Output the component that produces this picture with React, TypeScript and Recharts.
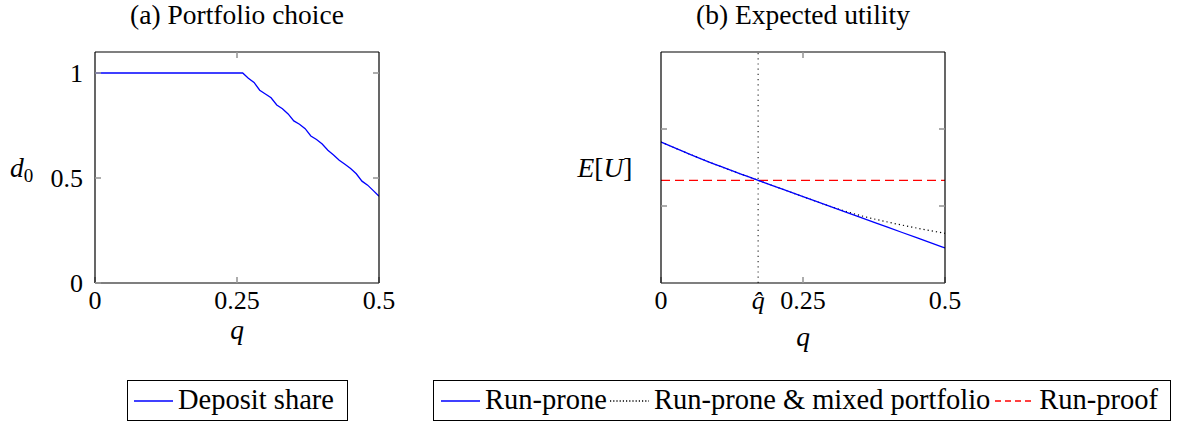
import React from "react";
import { LineChart, Line, XAxis, YAxis, ReferenceLine } from "recharts";

// (a) deposit share d0 against q
const depositQ = [
  0, 0.26, 0.27, 0.28, 0.29, 0.3, 0.31, 0.32, 0.33, 0.34, 0.35, 0.36, 0.37,
  0.38, 0.39, 0.4, 0.41, 0.42, 0.43, 0.44, 0.45, 0.46, 0.47, 0.48, 0.49, 0.5,
];
const depositShare = [
  1, 1, 0.975, 0.955, 0.918, 0.9, 0.882, 0.848, 0.83, 0.805, 0.772, 0.756,
  0.735, 0.7, 0.683, 0.662, 0.632, 0.61, 0.585, 0.565, 0.545, 0.52, 0.485,
  0.466, 0.44, 0.413,
];
const depositTicksX = [0, 0.25, 0.5];
const depositTicksY = [0, 0.5, 1];

// (b) expected utility against q
const utilityQ = [0, 0.05, 0.1, 0.15, 0.2, 0.25, 0.3, 0.35, 0.4, 0.45, 0.5];
const runProne = [1.831, 1.675, 1.527, 1.39, 1.256, 1.122, 0.99, 0.855, 0.722, 0.588, 0.455];
const runProneMixed = [1.831, 1.675, 1.527, 1.39, 1.256, 1.122, 0.99, 0.878, 0.79, 0.714, 0.645];
const runProof = [1.334, 1.334, 1.334, 1.334, 1.334, 1.334, 1.334, 1.334, 1.334, 1.334, 1.334];
const qHat = 0.171;
const utilityTicksX = [0, 0.25, 0.5];
const utilityTicksY = [1, 2];

const depositData = depositQ.map((q, i) => ({ q, share: depositShare[i] }));
const utilityData = utilityQ.map((q, i) => ({
  q,
  prone: runProne[i],
  mixed: runProneMixed[i],
  proof: runProof[i],
}));

const FONT = "'Times New Roman', 'Liberation Serif', 'DejaVu Serif', serif";
const tickStyle = { fontSize: 26, fill: "#000", fontFamily: FONT };
const frame = { stroke: "#000", strokeWidth: 1.2 };
const tickMark = { stroke: "#999", strokeWidth: 1.6 };
const noLabel = () => "";

const LegendSample = ({ color, dash }: { color: string; dash?: string }) => (
  <svg width={39} height={10} style={{ flex: "none" }}>
    <line x1={0} y1={5} x2={39} y2={5} stroke={color} strokeWidth={1.3} strokeDasharray={dash} />
  </svg>
);

// invisible series, only there so the mirrored axes get a domain
const hidden = {
  stroke: "none",
  dot: false,
  activeDot: false,
  isAnimationActive: false,
  legendType: "none" as const,
};

const App: React.FC = () => {
  return (
    <div
      style={{
        position: "absolute",
        left: 0,
        top: 0,
        width: 1178,
        height: 425,
        background: "#fff",
        fontFamily: FONT,
      }}
    >
      <div style={{ position: "absolute", left: 0, top: 0 }}>
        <LineChart
          width={410}
          height={320}
          data={depositData}
          margin={{ top: 51, right: 30, bottom: 36, left: 94 }}
        >
          <XAxis
            dataKey="q"
            type="number"
            domain={[0, 0.5]}
            allowDataOverflow
            ticks={depositTicksX}
            interval={0}
            height={1}
            tickSize={-6}
            tickMargin={14}
            tick={tickStyle}
            axisLine={frame}
            tickLine={tickMark}
          />
          <XAxis
            xAxisId="top"
            orientation="top"
            dataKey="q"
            type="number"
            domain={[0, 0.5]}
            allowDataOverflow
            ticks={[0.25]}
            interval={0}
            height={1}
            tickSize={-6}
            tick={tickStyle}
            tickFormatter={noLabel}
            axisLine={frame}
            tickLine={tickMark}
          />
          <YAxis
            type="number"
            domain={[0, 1.1]}
            allowDataOverflow
            ticks={depositTicksY}
            interval={0}
            width={1}
            tickSize={-6}
            tickMargin={18}
            tick={tickStyle}
            axisLine={frame}
            tickLine={tickMark}
          />
          <YAxis
            yAxisId="right"
            orientation="right"
            type="number"
            domain={[0, 1.1]}
            allowDataOverflow
            ticks={[0.5, 1]}
            interval={0}
            width={1}
            tickSize={-6}
            tick={tickStyle}
            tickFormatter={noLabel}
            axisLine={frame}
            tickLine={tickMark}
          />
          <Line xAxisId="top" yAxisId="right" dataKey="share" {...hidden} />
          <Line
            dataKey="share"
            type="linear"
            stroke="#0000ff"
            strokeWidth={1.3}
            dot={false}
            isAnimationActive={false}
          />
        </LineChart>
      </div>

      <div style={{ position: "absolute", left: 560, top: 0 }}>
        <LineChart
          width={410}
          height={320}
          data={utilityData}
          margin={{ top: 51, right: 24, bottom: 35, left: 100 }}
        >
          <XAxis
            dataKey="q"
            type="number"
            domain={[0, 0.5]}
            allowDataOverflow
            ticks={utilityTicksX}
            interval={0}
            height={1}
            tickSize={-6}
            tickMargin={14}
            tick={tickStyle}
            axisLine={frame}
            tickLine={tickMark}
          />
          <XAxis
            xAxisId="qhat"
            dataKey="q"
            type="number"
            domain={[0, 0.5]}
            allowDataOverflow
            ticks={[qHat]}
            interval={0}
            height={1}
            tickSize={-6}
            tickMargin={13}
            tick={{ ...tickStyle, fontStyle: "italic" }}
            tickFormatter={() => "q\u0302"}
            axisLine={false}
            tickLine={false}
          />
          <XAxis
            xAxisId="top"
            orientation="top"
            dataKey="q"
            type="number"
            domain={[0, 0.5]}
            allowDataOverflow
            ticks={[0.25]}
            interval={0}
            height={1}
            tickSize={-6}
            tick={tickStyle}
            tickFormatter={noLabel}
            axisLine={frame}
            tickLine={tickMark}
          />
          <YAxis
            type="number"
            domain={[0, 3]}
            allowDataOverflow
            ticks={utilityTicksY}
            interval={0}
            width={1}
            tickSize={-6}
            tick={tickStyle}
            tickFormatter={noLabel}
            axisLine={frame}
            tickLine={tickMark}
          />
          <YAxis
            yAxisId="right"
            orientation="right"
            type="number"
            domain={[0, 3]}
            allowDataOverflow
            ticks={utilityTicksY}
            interval={0}
            width={1}
            tickSize={-6}
            tick={tickStyle}
            tickFormatter={noLabel}
            axisLine={frame}
            tickLine={tickMark}
          />
          <Line xAxisId="top" yAxisId="right" dataKey="proof" {...hidden} />
          <Line xAxisId="qhat" dataKey="proof" {...hidden} />
          <ReferenceLine x={qHat} stroke="#333" strokeWidth={1.2} strokeDasharray="1.2 4" />
          <Line
            dataKey="proof"
            type="linear"
            stroke="#ff0000"
            strokeWidth={1.3}
            strokeDasharray="9 5"
            dot={false}
            isAnimationActive={false}
          />
          <Line
            dataKey="mixed"
            type="monotone"
            stroke="#000"
            strokeWidth={1.2}
            strokeDasharray="1.2 3"
            dot={false}
            isAnimationActive={false}
          />
          <Line
            dataKey="prone"
            type="monotone"
            stroke="#0000ff"
            strokeWidth={1.3}
            dot={false}
            isAnimationActive={false}
          />
        </LineChart>
      </div>

      <svg
        width={1178}
        height={370}
        style={{ position: "absolute", left: 0, top: 0, pointerEvents: "none" }}
        fontFamily={FONT}
        fontSize={27.5}
      >
        <text x={237} y={24} textAnchor="middle">(a) Portfolio choice</text>
        <text x={803} y={24} textAnchor="middle">(b) Expected utility</text>
        <text x={10} y={177}>
          <tspan fontStyle="italic">d</tspan>
          <tspan fontSize={19} dy={5}>0</tspan>
        </text>
        <text x={237} y={339} textAnchor="middle" fontStyle="italic">q</text>
        <text x={803} y={346} textAnchor="middle" fontStyle="italic">q</text>
        <text x={605} y={177} textAnchor="middle">
          <tspan fontStyle="italic">E</tspan>[<tspan fontStyle="italic">U</tspan>]
        </text>
      </svg>

      <div
        style={{
          position: "absolute",
          left: 127,
          top: 380,
          width: 221,
          height: 41,
          boxSizing: "border-box",
          border: "1px solid #000",
          display: "flex",
          alignItems: "center",
          paddingLeft: 6,
          fontSize: 28.5,
          lineHeight: 1,
        }}
      >
        <LegendSample color="#0000ff" />
        <span style={{ marginLeft: 5 }}>Deposit share</span>
      </div>

      <div
        style={{
          position: "absolute",
          left: 433,
          top: 380,
          width: 738,
          height: 41,
          boxSizing: "border-box",
          border: "1px solid #000",
          display: "flex",
          alignItems: "center",
          paddingLeft: 7,
          fontSize: 28.5,
          lineHeight: 1,
          whiteSpace: "nowrap",
        }}
      >
        <LegendSample color="#0000ff" />
        <span style={{ marginLeft: 5 }}>Run-prone</span>
        <span style={{ marginLeft: 3, display: "flex" }}>
          <LegendSample color="#000" dash="1.2 2" />
        </span>
        <span style={{ marginLeft: 5 }}>Run-prone &amp; mixed portfolio</span>
        <span style={{ marginLeft: 5, display: "flex" }}>
          <LegendSample color="#ff0000" dash="6 4" />
        </span>
        <span style={{ marginLeft: 5 }}>Run-proof</span>
      </div>
    </div>
  );
};

export default App;
